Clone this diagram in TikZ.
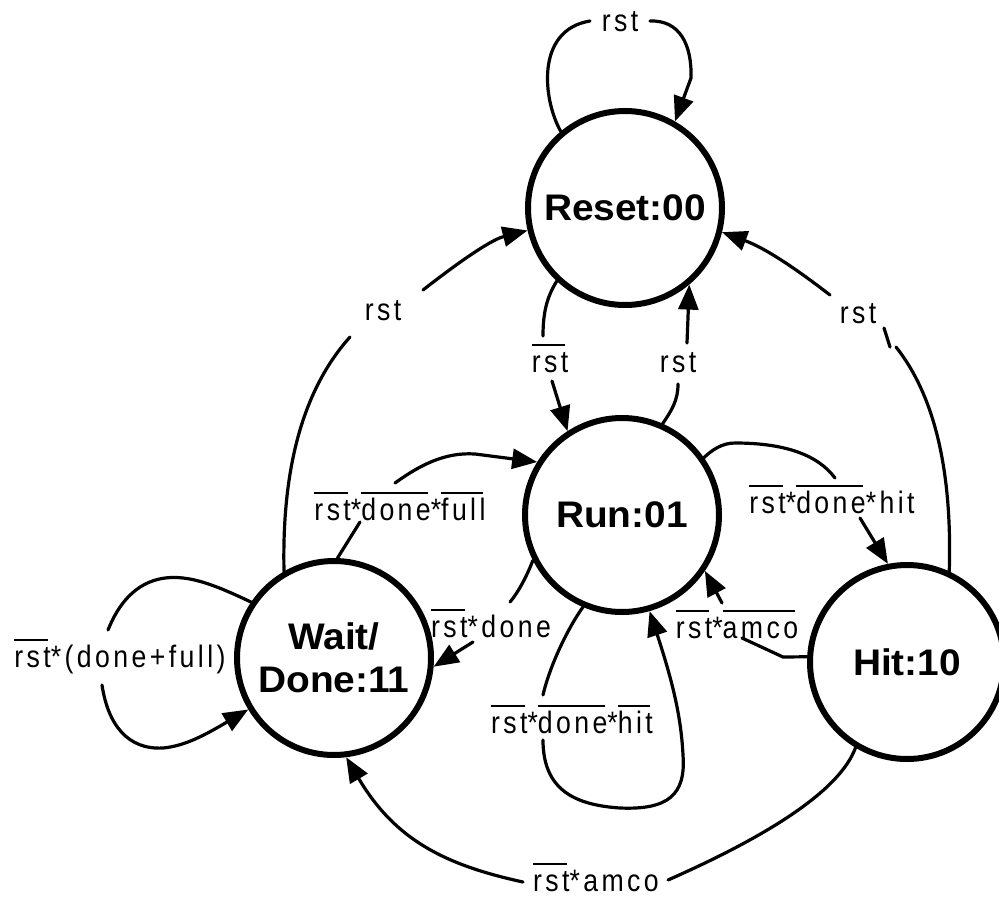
\documentclass[tikz,border=0pt]{standalone}
\usepackage{fontspec}
\setmainfont{Liberation Sans}
\usetikzlibrary{arrows.meta}
\newfontfamily\nodefont{Liberation Sans}[FakeStretch=1.05]
\newfontfamily\lblfont{Liberation Sans}[FakeStretch=0.86,LetterSpace=11]
\newcommand\ovl[1]{\setbox0\hbox{#1}\rlap{\raisebox{26pt}{\rule{\dimexpr\wd0-3pt\relax}{2.2pt}}}\box0}
\begin{document}
\begin{tikzpicture}[x=1pt,y=-1pt,
  state/.style={circle,draw,line width=6pt,minimum size=194pt,inner sep=0pt,
    font=\nodefont\bfseries\fontsize{37}{43}\selectfont,align=center},
  edge/.style={line width=3.2pt,line cap=round},
  arr/.style={edge,-{Triangle[length=25pt,width=20pt]}},
  lbl/.style={font=\lblfont\fontsize{31}{36}\selectfont,inner sep=0pt,anchor=base}]
\useasboundingbox (0,0) rectangle (999,899);
\node[state] (R) at (625,208) {Reset:00};
\node[state] (U) at (622,515) {Run:01};
\node[state] (W) at (334,658) {Wait/\\Done:11};
\node[state] (H) at (907,662) {Hit:10};
% labels
\node[lbl] (l1) at (620,32) {rst};
\node[lbl] (l2) at (550,372) {\ovl{rst}};
\node[lbl] (l3) at (678,372) {rst};
\node[lbl] (l4) at (858,323) {rst};
\node[lbl] (l5) at (383,320) {rst};
\node[lbl] (l6) at (400,520) {\ovl{rst}*\ovl{done}*\ovl{full}};
\node[lbl] (l7) at (832,513) {\ovl{rst}*\ovl{done}*hit};
\node[lbl] (l8) at (737,638) {\ovl{rst}*\ovl{amco}};
\node[lbl] (l9) at (491,637) {\ovl{rst}*done};
\node[lbl] (l10) at (572,733) {\ovl{rst}*\ovl{done}*\ovl{hit}};
\node[lbl] (l11) at (120,667) {\ovl{rst}*(done+full)};
\node[lbl] (l12) at (596,891) {\ovl{rst}*amco};
% free ends
\coordinate (a1) at (590,21); \coordinate (a2) at (650,21);
\coordinate (b1) at (543,336); \coordinate (b2) at (552,381);
\coordinate (c1) at (678,384); \coordinate (c2) at (687,343);
\coordinate (d1) at (896,347); \coordinate (d2) at (890,347);
\coordinate (d3) at (884,328); \coordinate (d4) at (830,295);
\coordinate (e1) at (350,337); \coordinate (e2) at (423,290);
\coordinate (f1) at (360,522); \coordinate (f2) at (395,483);
\coordinate (g1) at (835,478); \coordinate (g2) at (860,518);
\coordinate (h1) at (742,638); \coordinate (h2) at (722,603);
\coordinate (i1) at (510,602); \coordinate (i2) at (473,642);
\coordinate (j1) at (543,695); \coordinate (j2) at (543,740);
\coordinate (k1) at (108,630); \coordinate (k2) at (102,685);
\coordinate (m1) at (668,880); \coordinate (m2) at (523,882);
% 1 Reset self loop
\draw[edge] (R.130) .. controls (543,100) and (535,30) .. (a1);
\draw[arr] (a2) .. controls (680,20) and (692,45) .. (691,78) -- (R.60);
% 2 Reset -> Run
\draw[edge] (R.227) .. controls (546,298) and (543,315) .. (b1);
\draw[arr] (b2) -- (U.123);
% 3 Run -> Reset
\draw[edge] (U.66) .. controls (672,410) and (678,400) .. (c1);
\draw[arr] (c2) -- (R.310);
% 4 Hit -> Reset
\draw[edge] (H.65) .. controls (952,480) and (938,400) .. (d1);
\draw[edge] (d3) -- (d2);
\draw[arr] (d4) .. controls (795,268) and (765,248) .. (R.346);
% 5 Wait -> Reset
\draw[edge] (W.120) .. controls (282,480) and (298,395) .. (e1);
\draw[arr] (e2) .. controls (455,265) and (490,240) .. (R.193);
% 6 Wait -> Run
\draw[edge] (W.88) -- (f1);
\draw[arr] (f2) .. controls (420,465) and (445,452) .. (475,454) -- (U.148);
% 7 Run -> Hit
\draw[edge] (U.35) .. controls (712,450) and (722,443) .. (735,443) .. controls (785,443) and (818,455) .. (g1);
\draw[arr] (g2) -- (H.101);
% 8 Hit -> Run
\draw[edge] (H.177) -- (783,657) -- (h1);
\draw[arr] (h2) -- (U.326);
% 9 Run -> Wait
\draw[edge] (U.207) .. controls (528,573) and (520,590) .. (i1);
\draw[arr] (i2) -- (W.355);
% 10 Run self loop
\draw[edge] (U.247) .. controls (568,628) and (550,665) .. (j1);
\draw[arr] (j2) .. controls (543,790) and (575,805) .. (620,808) .. controls (668,810) and (686,795) .. (683,755) .. controls (681,715) and (672,680) .. (U.286);
% 11 Wait self loop
\draw[edge] (W.146) .. controls (215,585) and (190,575) .. (165,578) .. controls (135,582) and (118,605) .. (k1);
\draw[arr] (k2) .. controls (108,725) and (128,750) .. (163,748) .. controls (185,746) and (205,735) .. (W.211);
% 12 Hit -> Wait
\draw[edge] (H.239) .. controls (840,790) and (770,835) .. (m1);
\draw[arr] (m2) .. controls (445,865) and (395,840) .. (W.277);
\end{tikzpicture}
\end{document}
